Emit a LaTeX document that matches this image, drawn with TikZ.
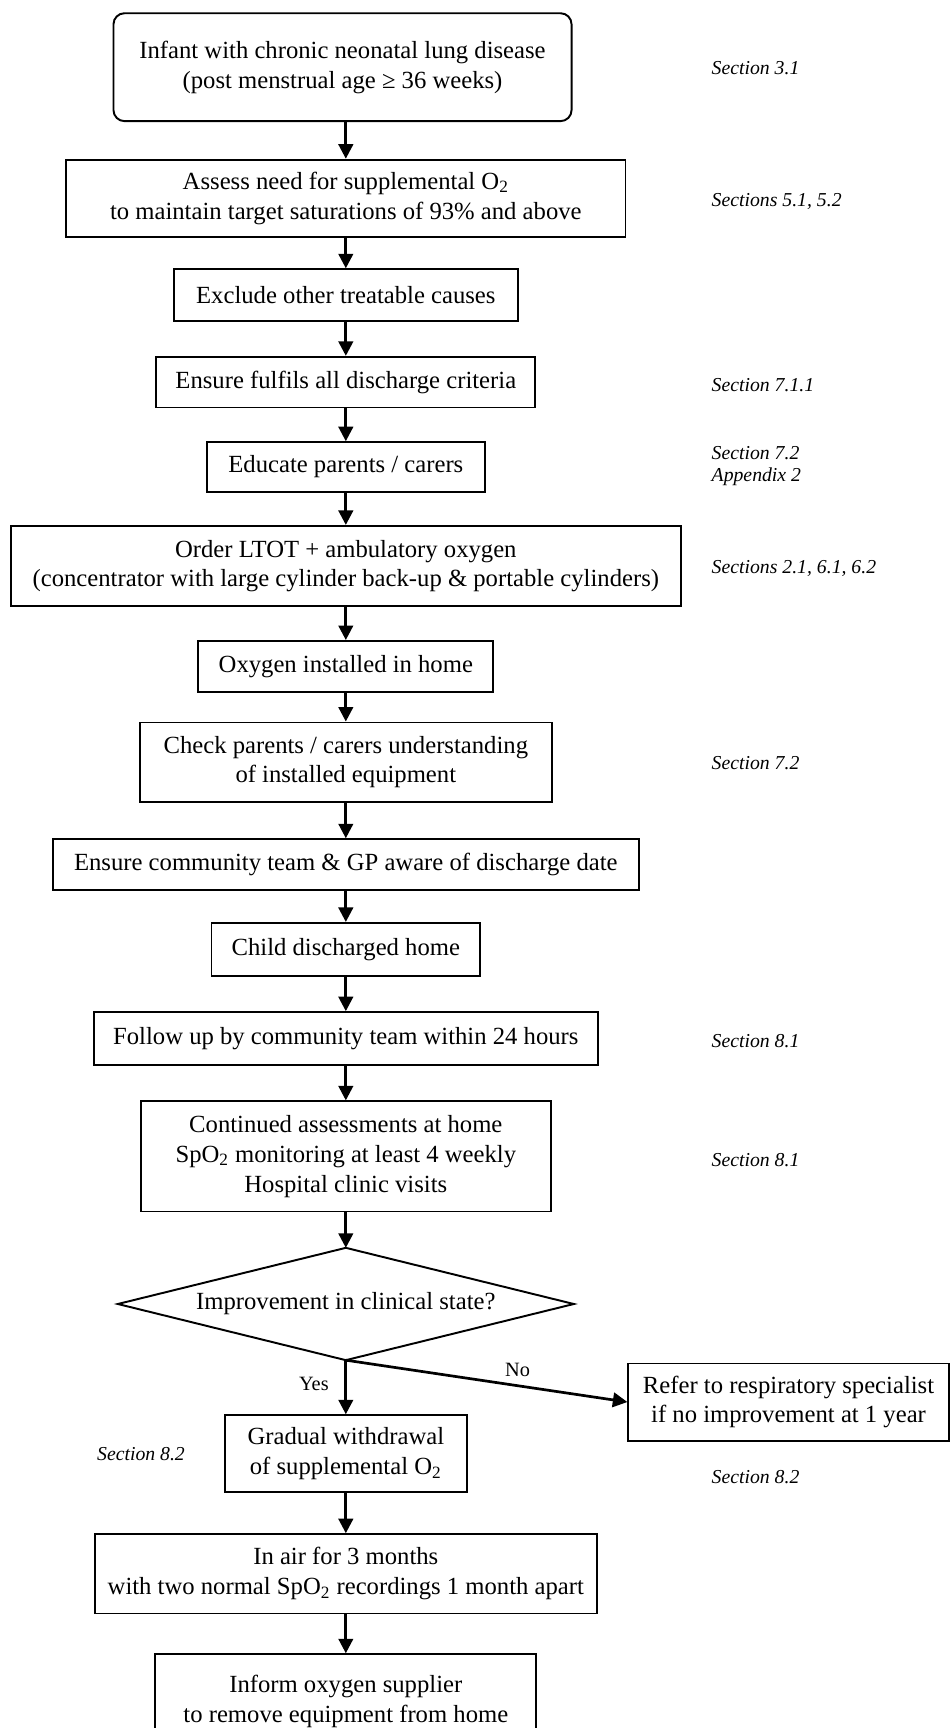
\documentclass[tikz,border=0pt]{standalone}
\usepackage{fontspec}
\setmainfont{Liberation Serif}
\usetikzlibrary{arrows.meta}

\begin{document}
\begin{tikzpicture}[x=0.02cm,y=-0.02cm,
	box/.style={draw,line width=1pt,align=center,inner sep=0pt,font=\fontsize{12.75}{15.4}\selectfont},
	sect/.style={anchor=west,align=left,font=\fontsize{10.2}{11.4}\selectfont\itshape},
	flow/.style={-{Triangle[length=7.5pt,width=7.5pt]},line width=1.4pt},
	lbl/.style={font=\fontsize{10.5}{12}\selectfont}]
		\useasboundingbox (0,0) rectangle (862,1569);
		% main column
		\node[box,rounded corners=0.2cm,minimum width=8.32cm,minimum height=1.96cm] (infant) at (311,61) {Infant with chronic neonatal lung disease\\(post menstrual age ≥ 36 weeks)};
		\node[box,minimum width=10.16cm,minimum height=1.4cm] (assess) at (314,180) {Assess need for supplemental O\textsubscript{2}\\to maintain target saturations of 93\% and above};
		\node[box,minimum width=6.24cm,minimum height=0.94cm] (exclude) at (314,268) {Exclude other treatable causes};
		\node[box,minimum width=6.88cm,minimum height=0.92cm] (criteria) at (314,347) {Ensure fulfils all discharge criteria};
		\node[box,minimum width=5.04cm,minimum height=0.9cm] (educate) at (314,424) {Educate parents / carers};
		\node[box,minimum width=12.16cm,minimum height=1.46cm] (order) at (314,514) {Order LTOT + ambulatory oxygen\\(concentrator with large cylinder back-up \& portable cylinders)};
		\node[box,minimum width=5.36cm,minimum height=0.92cm] (installed) at (314,605) {Oxygen installed in home};
		\node[box,minimum width=7.48cm,minimum height=1.44cm] (check) at (314,692) {Check parents / carers understanding\\of installed equipment};
		\node[box,minimum width=10.64cm,minimum height=0.92cm] (aware) at (314,785) {Ensure community team \& GP aware of discharge date};
		\node[box,minimum width=4.88cm,minimum height=0.96cm] (discharged) at (314,862) {Child discharged home};
		\node[box,minimum width=9.16cm,minimum height=0.96cm] (followup) at (314,943) {Follow up by community team within 24 hours};
		\node[box,minimum width=7.44cm,minimum height=2cm] (continued) at (314,1050) {Continued assessments at home\\SpO\textsubscript{2} monitoring at least 4 weekly\\Hospital clinic visits};
		% decision
		\coordinate (dtop) at (314,1133);
		\coordinate (dright) at (521,1184);
		\coordinate (dbot) at (314,1235);
		\coordinate (dleft) at (107,1184);
		\draw[line width=1pt] (dleft) -- (dtop) -- (dright) -- (dbot) -- cycle;
		\node[font=\fontsize{12.75}{15.4}\selectfont] (improve) at (314,1184) {Improvement in clinical state?};
		\node[box,minimum width=4.4cm,minimum height=1.4cm] (gradual) at (314,1320) {Gradual withdrawal\\of supplemental O\textsubscript{2}};
		\node[box,minimum width=5.82cm,minimum height=1.4cm] (refer) at (716,1273) {Refer to respiratory specialist\\if no improvement at 1 year};
		\node[box,minimum width=9.12cm,minimum height=1.44cm] (inair) at (314,1429) {In air for 3 months\\with two normal SpO\textsubscript{2} recordings 1 month apart};
		\node[box,minimum width=6.92cm,minimum height=1.72cm] (inform) at (314,1545) {Inform oxygen supplier\\to remove equipment from home};
		% section references
		\node[sect] (s31) at (640,62) {Section 3.1};
		\node[sect] (s51) at (640,183) {Sections 5.1, 5.2};
		\node[sect] (s711) at (640,350) {Section 7.1.1};
		\node[sect] (s72a) at (640,423) {Section 7.2\\Appendix 2};
		\node[sect] (s21) at (640,516) {Sections 2.1, 6.1, 6.2};
		\node[sect] (s72b) at (640,693) {Section 7.2};
		\node[sect] (s81a) at (640,945) {Section 8.1};
		\node[sect] (s81b) at (640,1053) {Section 8.1};
		\node[sect] (s82a) at (82,1320) {Section 8.2};
		\node[sect] (s82b) at (640,1341) {Section 8.2};
		% arrows
		\draw[flow] (assess|-infant.south) -- (assess);
		\draw[flow] (assess) -- (exclude);
		\draw[flow] (exclude) -- (criteria);
		\draw[flow] (criteria) -- (educate);
		\draw[flow] (educate) -- (order);
		\draw[flow] (order) -- (installed);
		\draw[flow] (installed) -- (check);
		\draw[flow] (check) -- (aware);
		\draw[flow] (aware) -- (discharged);
		\draw[flow] (discharged) -- (followup);
		\draw[flow] (followup) -- (continued);
		\draw[flow] (continued) -- (dtop);
		\draw[flow] (dbot) -- (gradual);
		\draw[flow] (dbot) -- (refer.west);
		\draw[flow] (gradual) -- (inair);
		\draw[flow] (inair) -- (inform);
		\node[lbl] (yes) at (285,1257) {Yes};
		\node[lbl] (no) at (470,1244) {No};
\end{tikzpicture}
\end{document}
